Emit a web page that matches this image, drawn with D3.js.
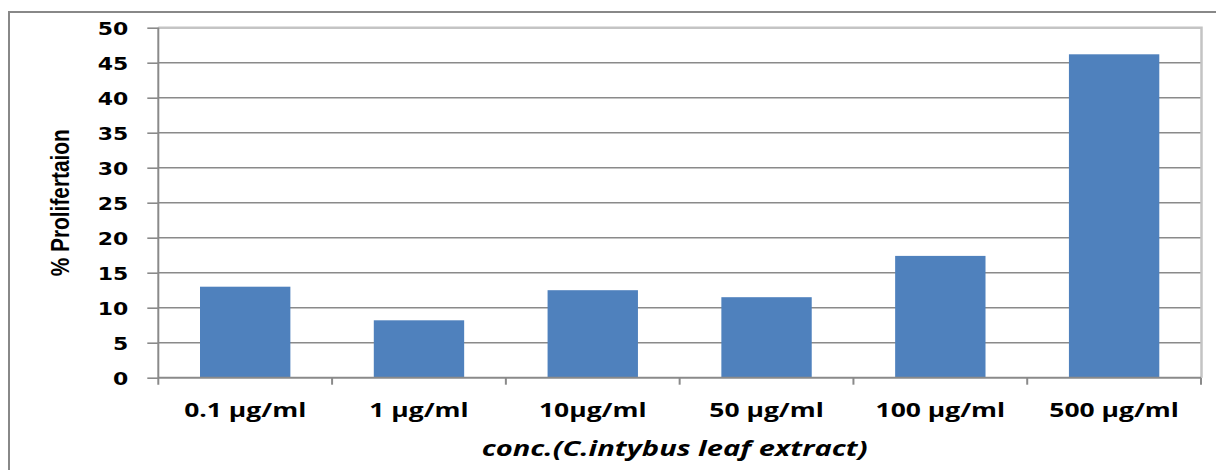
<!DOCTYPE html>
<html>
<head>
<meta charset="utf-8">
<script src="https://cdn.jsdelivr.net/npm/d3@7"></script>
<style>
  html, body { margin: 0; padding: 0; background: #fff; }
  svg { display: block; }
</style>
</head>
<body>
<svg id="chart" width="1216" height="470"></svg>
<script>
// ---- data ----
const categories = ["0.1 µg/ml", "1 µg/ml", "10µg/ml", "50 µg/ml", "100 µg/ml", "500 µg/ml"];
const values = [13.0, 8.2, 12.5, 11.5, 17.4, 46.2];
const yTicks = [0, 5, 10, 15, 20, 25, 30, 35, 40, 45, 50];
const yLabel = "% Prolifertaion";
const xLabel = "conc.(C.intybus leaf extract)";

// ---- layout ----
const svg = d3.select("#chart");
const pL = 158.3, pR = 1201, pT = 27.7, pB = 377.7;

const x = d3.scaleBand().domain(categories).range([pL, pR])
  .paddingInner(0.48).paddingOuter(0.24);
const y = d3.scaleLinear().domain([0, 50]).range([pB, pT]);

function stretch(sel, factor) {
  sel.each(function () {
    const L = this.getComputedTextLength();
    d3.select(this).attr("textLength", L * factor).attr("lengthAdjust", "spacingAndGlyphs");
  });
}

// outer border
svg.append("rect").attr("x", 9).attr("y", 12).attr("width", 1400).attr("height", 700)
  .attr("fill", "none").attr("stroke", "#888").attr("stroke-width", 2);

// gridlines
svg.append("g").selectAll("line").data(yTicks.filter(d => d > 0)).join("line")
  .attr("x1", pL).attr("x2", pR)
  .attr("y1", d => y(d)).attr("y2", d => y(d))
  .attr("stroke", "#8a8a8a").attr("stroke-width", 1.6);

// plot-area border (top/right), light
svg.append("path")
  .attr("d", `M${pL},${pT}H${pR + 0.5}V${pB}`)
  .attr("fill", "none").attr("stroke", "#c4c4c4").attr("stroke-width", 2.5);

// bars
svg.append("g").selectAll("rect").data(values).join("rect")
  .attr("x", (d, i) => x(categories[i]))
  .attr("width", x.bandwidth())
  .attr("y", d => y(d))
  .attr("height", d => y(0) - y(d))
  .attr("fill", "#4f81bd");

// y axis
const yAxis = d3.axisLeft(y).tickValues(yTicks).tickSize(11).tickPadding(19).tickFormat(d3.format("d"));
const gy = svg.append("g").attr("transform", `translate(${pL},0)`).call(yAxis);
gy.select(".domain").attr("d", `M0,${pT}V${pB + 7}`).attr("stroke", "#8a8a8a").attr("stroke-width", 2);
gy.selectAll(".tick line").attr("stroke", "#8a8a8a").attr("stroke-width", 1.6);
gy.selectAll(".tick text")
  .attr("font-family", "'DejaVu Sans', Verdana, sans-serif")
  .attr("font-weight", "bold").attr("font-size", 18).attr("fill", "#000")
  .attr("dy", "0.36em")
  .call(stretch, 1.22);

// x axis
const xAxis = d3.axisBottom(x).tickSize(0).tickPadding(0);
const gx = svg.append("g").attr("transform", `translate(0,${pB})`).call(xAxis);
gx.select(".domain").attr("d", `M${pL},0H${pR}`).attr("stroke", "#8a8a8a").attr("stroke-width", 2);
// boundary ticks between categories
const bounds = d3.range(1, categories.length + 1).map(i => pL + i * x.step());
gx.append("g").selectAll("line").data(bounds).join("line")
  .attr("x1", d => d).attr("x2", d => d).attr("y1", 0).attr("y2", 7)
  .attr("stroke", "#8a8a8a").attr("stroke-width", 2);
gx.selectAll(".tick text")
  .attr("font-family", "'Open Sans', Lato, sans-serif")
  .attr("font-weight", "bold").attr("font-size", 20).attr("fill", "#000")
  .attr("y", 39).attr("dy", 0);
{
  const first = gx.select(".tick text").node();
  const factor = 122 / first.getComputedTextLength();
  gx.selectAll(".tick text").call(stretch, factor);
}

// axis titles
const yt = svg.append("text")
  .attr("transform", `translate(69,${(pT + pB) / 2}) rotate(-90)`)
  .attr("text-anchor", "middle")
  .attr("font-family", "'Liberation Sans Narrow', 'Liberation Sans', Arial, sans-serif")
  .attr("font-weight", "bold").attr("font-size", 25).attr("fill", "#000")
  .text(yLabel);
yt.attr("textLength", 147).attr("lengthAdjust", "spacingAndGlyphs");

svg.append("text")
  .attr("x", (pL + pR) / 2 - 5).attr("y", 456)
  .attr("text-anchor", "middle")
  .attr("font-family", "'Open Sans', Lato, sans-serif")
  .attr("font-weight", "bold").attr("font-style", "italic").attr("font-size", 21).attr("fill", "#000")
  .attr("textLength", 386).attr("lengthAdjust", "spacingAndGlyphs")
  .text(xLabel);
</script>
</body>
</html>
